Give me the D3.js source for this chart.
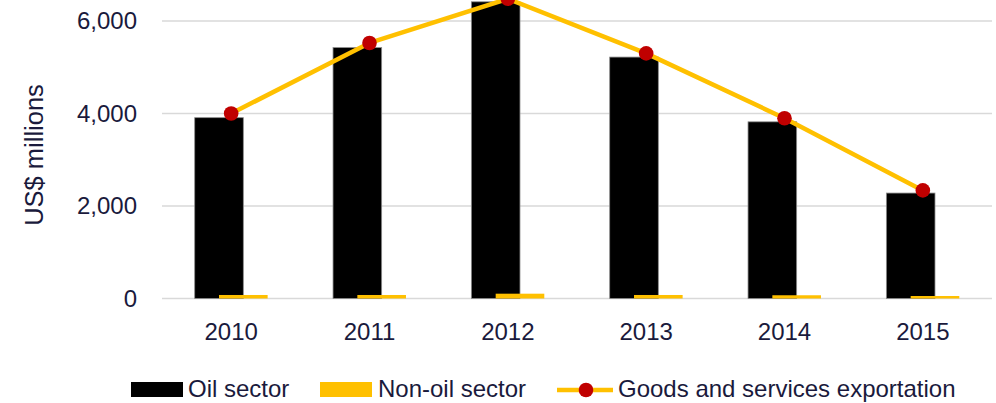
<!DOCTYPE html>
<html>
<head>
<meta charset="utf-8">
<script src="https://cdn.jsdelivr.net/npm/d3@7/dist/d3.min.js"></script>
<style>
  html, body { margin: 0; padding: 0; background: #fff; }
  svg { display: block; }
  text { font-family: "Liberation Sans", Arial, sans-serif; fill: #1a1a3c; }
</style>
</head>
<body>
<svg id="chart" width="996" height="403"></svg>
<script>
const years = ["2010", "2011", "2012", "2013", "2014", "2015"];
const oilSector = [3910, 5425, 6415, 5220, 3820, 2280];
const nonOilSector = [76, 76, 104, 76, 70, 54];
const goodsServices = [4000, 5525, 6480, 5300, 3898, 2337];
const yTicks = [0, 2000, 4000, 6000];
const legendLabels = ["Oil sector", "Non-oil sector", "Goods and services exportation"];

const svg = d3.select("#chart");
const left = 162, right = 992;
const FS = 24;

const x = d3.scaleBand().domain(years).range([left, right]).padding(0);
const y = d3.scaleLinear().domain([0, 6000]).range([298.5, 21]);

const bw = x.bandwidth();
const barW = bw * 0.3515;
const oilOff = bw / 2 - barW * 0.75;
const nonOff = bw / 2 - barW * 0.25;

// gridlines
svg.append("g").selectAll("line").data(yTicks).join("line")
  .attr("x1", left).attr("x2", right)
  .attr("y1", d => y(d)).attr("y2", d => y(d))
  .attr("stroke", "#d9d9d9").attr("stroke-width", 1.5);

// y axis labels
const yAxis = d3.axisLeft(y).tickValues(yTicks).tickFormat(d3.format(",")).tickSize(0).tickPadding(0);
const ya = svg.append("g").attr("transform", "translate(137,0)").call(yAxis);
ya.select(".domain").remove();
ya.selectAll("text").attr("font-size", FS).attr("fill", "#1a1a3c")
  .style("font-family", "'Liberation Sans', Arial, sans-serif");

// x axis labels
const xAxis = d3.axisBottom(x).tickSize(0).tickPadding(0);
const xa = svg.append("g").attr("transform", "translate(0,323)").call(xAxis);
xa.select(".domain").remove();
xa.selectAll("text").attr("font-size", FS).attr("fill", "#1a1a3c").attr("dy", "0.71em")
  .style("font-family", "'Liberation Sans', Arial, sans-serif");

// y title
svg.append("text")
  .attr("transform", "translate(43,155) rotate(-90)")
  .attr("text-anchor", "middle")
  .attr("font-size", 25.5)
  .text("US$ millions");

// oil bars
svg.append("g").selectAll("rect").data(years).join("rect")
  .attr("x", (d) => x(d) + oilOff)
  .attr("width", barW)
  .attr("y", (d, i) => y(oilSector[i]))
  .attr("height", (d, i) => y(0) - y(oilSector[i]))
  .attr("fill", "#000").attr("stroke", "#8c8c8c").attr("stroke-width", 0.8);

// non-oil bars
svg.append("g").selectAll("rect").data(years).join("rect")
  .attr("x", (d) => x(d) + nonOff)
  .attr("width", barW)
  .attr("y", (d, i) => y(nonOilSector[i]))
  .attr("height", (d, i) => y(0) - y(nonOilSector[i]))
  .attr("fill", "#ffc000");

// line
const line = d3.line().x((d, i) => x(years[i]) + bw / 2).y(d => y(d));
svg.append("path").datum(goodsServices)
  .attr("d", line).attr("fill", "none")
  .attr("stroke", "#ffc000").attr("stroke-width", 4.5).attr("stroke-linejoin", "round");
svg.append("g").selectAll("circle").data(goodsServices).join("circle")
  .attr("cx", (d, i) => x(years[i]) + bw / 2)
  .attr("cy", d => y(d)).attr("r", 7.3).attr("fill", "#c00000");

// legend
const lg = svg.append("g");
const ly = 390, tb = 396.5;
lg.append("rect").attr("x", 131).attr("y", 382).attr("width", 52).attr("height", 15).attr("fill", "#000");
lg.append("text").attr("x", 188).attr("y", tb).attr("font-size", FS).text(legendLabels[0]);
lg.append("rect").attr("x", 320).attr("y", 382).attr("width", 52).attr("height", 15).attr("fill", "#ffc000");
lg.append("text").attr("x", 378).attr("y", tb).attr("font-size", FS).text(legendLabels[1]);
lg.append("line").attr("x1", 557).attr("x2", 613).attr("y1", ly).attr("y2", ly)
  .attr("stroke", "#ffc000").attr("stroke-width", 4.5);
lg.append("circle").attr("cx", 586).attr("cy", ly).attr("r", 7.3).attr("fill", "#c00000");
lg.append("text").attr("x", 618).attr("y", tb).attr("font-size", FS).text(legendLabels[2]);
</script>
</body>
</html>
